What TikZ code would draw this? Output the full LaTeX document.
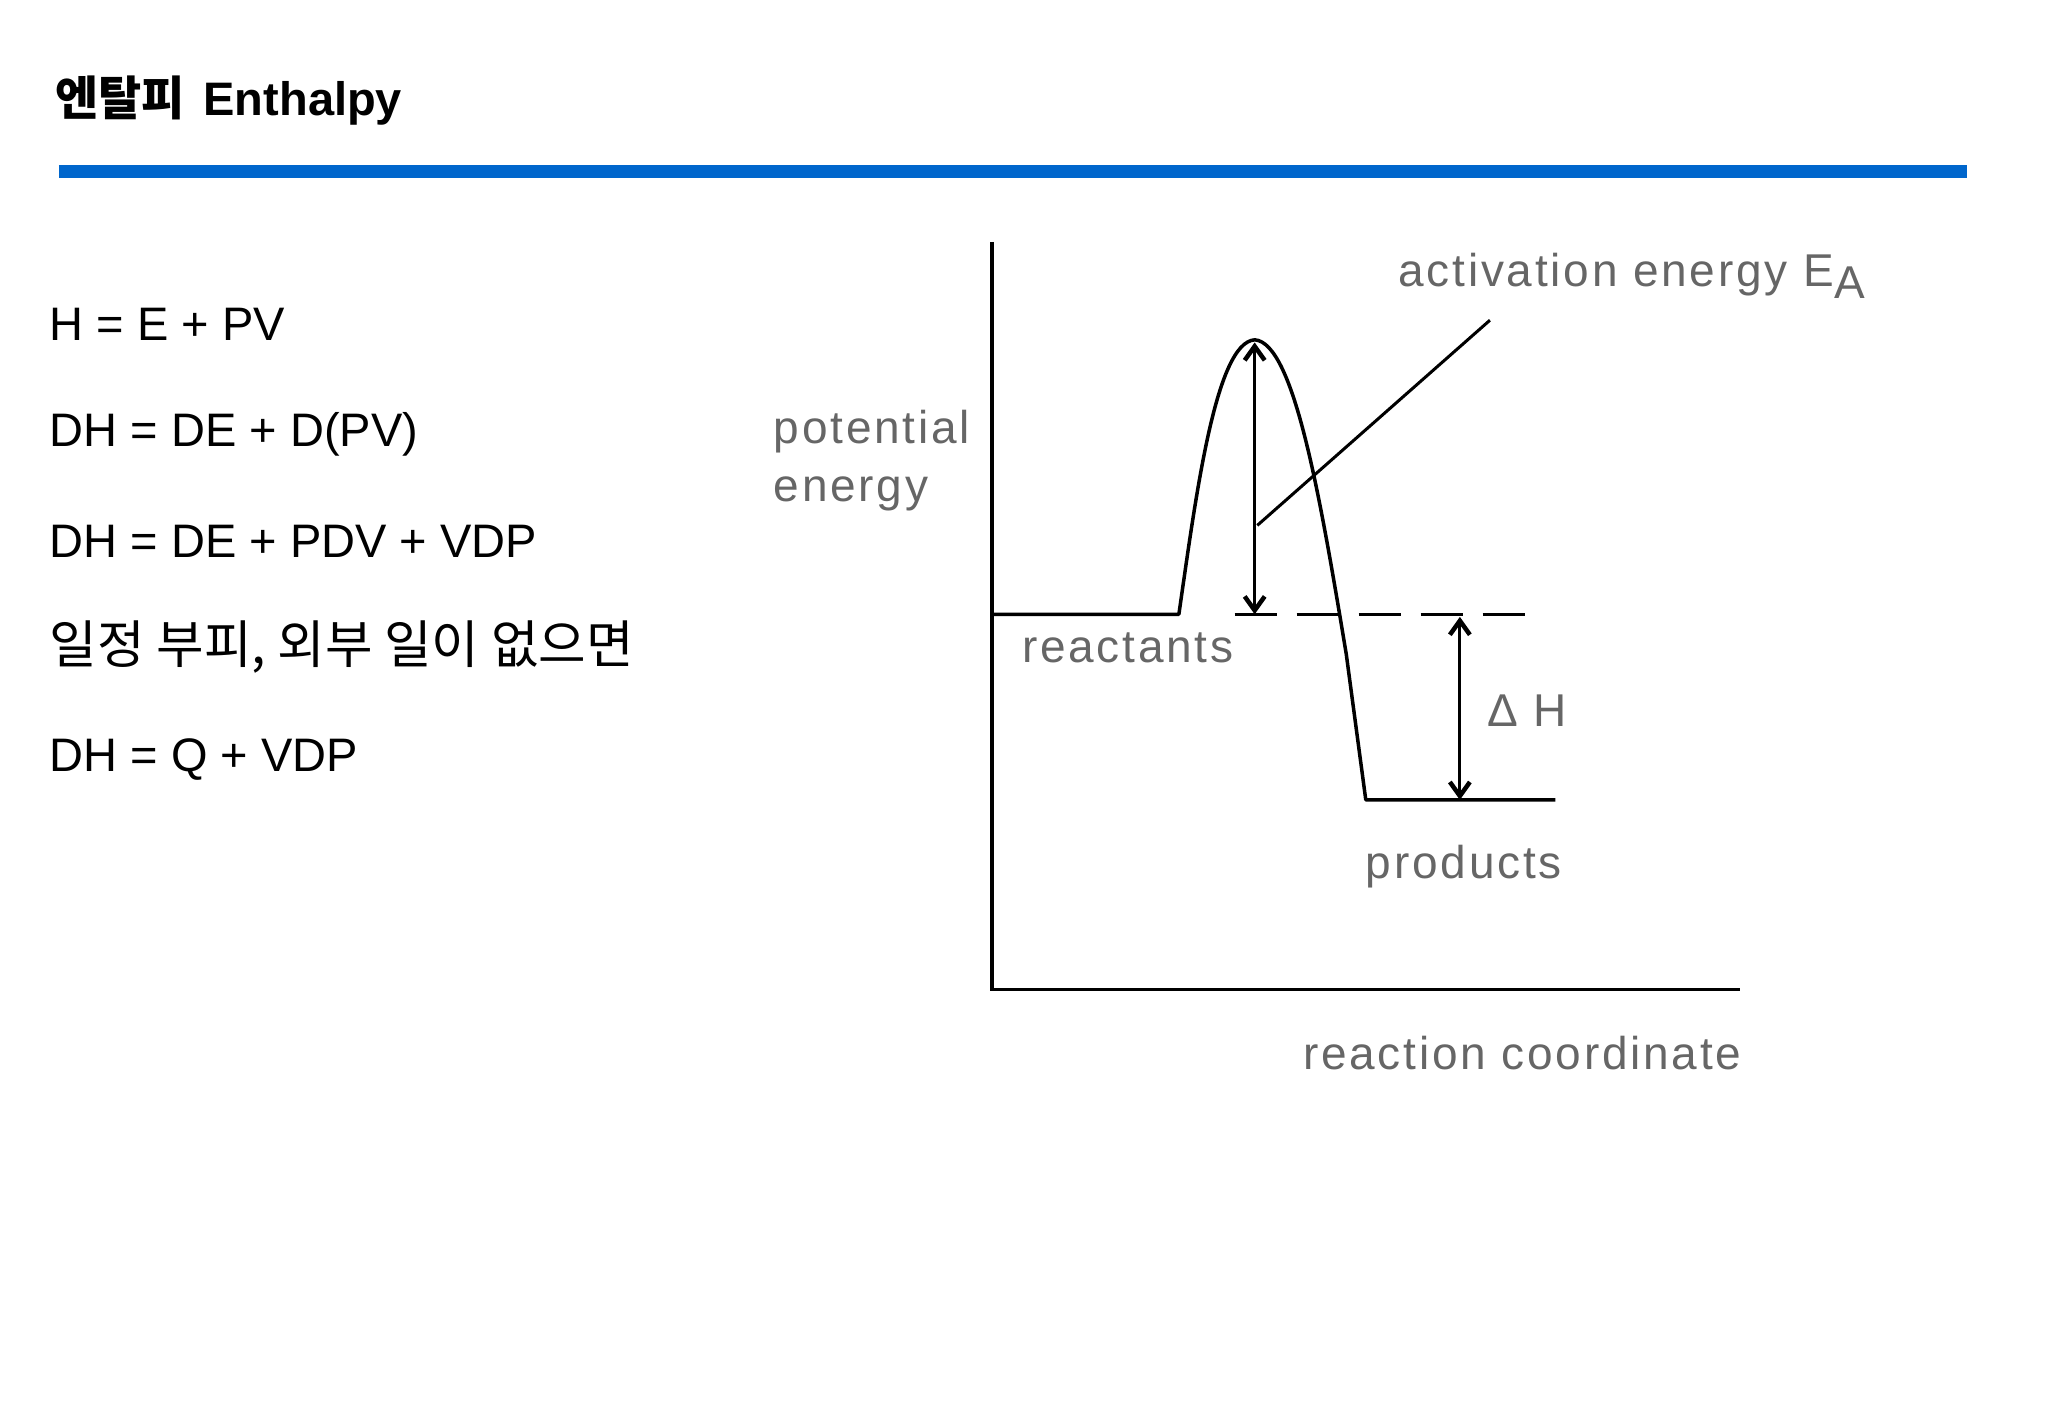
\documentclass[tikz,border=0pt]{standalone}
\usepackage{fontspec}
\setmainfont{Liberation Sans}
\newfontfamily\kr[Scale=1.1]{Noto Sans CJK KR}
\newfontfamily\krt{Noto Sans CJK KR}
\newfontfamily\gfont[LetterSpace=6]{Liberation Sans}
\usetikzlibrary{arrows.meta}
\begin{document}
\begin{tikzpicture}[x=1.307pt,y=-1.307pt,
 txt/.style={anchor=west,inner sep=0,font=\fontsize{47}{52}\selectfont},
 gl/.style={anchor=west,inner sep=0,text=black!60,font=\gfont\fontsize{46}{52}\selectfont},
 ln/.style={line width=3.5pt},
 arr/.style={line width=3pt,{Straight Barb[length=14pt,width=20pt,line width=4.5pt]}-{Straight Barb[length=14pt,width=20pt,line width=4.5pt]}}]
\useasboundingbox (0,0) rectangle (1567,1085);
\node[anchor=west,inner sep=0,font=\fontsize{47}{52}\selectfont\bfseries] (title) at (42,77) {{\krt 엔탈피}\hspace{0.4em}Enthalpy};
\draw[line width=13pt,color={rgb,255:red,0;green,102;blue,204}] (45,131) coordinate (b1) -- (1505,131) coordinate (b2);
\node[txt] (t1) at (38,248) {H = E + PV};
\node[txt] (t2) at (38,332) {DH = DE + D(PV)};
\node[txt] (t3) at (38,414) {DH = DE + PDV + VDP};
\node[txt] (t4) at (38,495) {\kr 일정 부피, 외부 일이 없으면};
\node[txt] (t5) at (38,581) {DH = Q + VDP};
% axes
\coordinate (top) at (759,185); \coordinate (o) at (759,757); \coordinate (xe) at (1331,757);
\draw[ln] (top) -- (o) -- (xe);
% curve
\coordinate (r0) at (759,470); \coordinate (r1) at (902,470); \coordinate (pk) at (960,260);
\coordinate (p0) at (1045,612); \coordinate (p1) at (1190,612);
\draw[ln,line join=round] (r0) -- (r1) .. controls (915,380) and (930,262) .. (pk)
  .. controls (990,262) and (1010,380) .. (1030,500) -- (p0) -- (p1);
\draw[line width=2.5pt,dash pattern=on 42pt off 20pt,dash phase=-6pt] (940,470) -- (1168,470);
\draw[arr] (960,262) coordinate (a1) -- (960,470) coordinate (a2);
\draw[line width=3pt] (962,402) coordinate (l1) -- (1140,245) coordinate (l2);
\draw[arr] (1117,472) coordinate (d1) -- (1117,612) coordinate (d2);
\node[gl] (ea) at (1070,211) {activation energy E\raisebox{-0.5ex}{A}};
\node[gl] (pe1) at (592,330) {potential};
\node[gl] (pe2) at (592,378) {energy};
\node[gl] (re) at (782,496) {reactants};
\node[gl] (dh) at (1138,544) {Δ H};
\node[gl] (pr) at (1045,663) {products};
\node[gl] (rc) at (997,806) {reaction coordinate};
\end{tikzpicture}
\end{document}
